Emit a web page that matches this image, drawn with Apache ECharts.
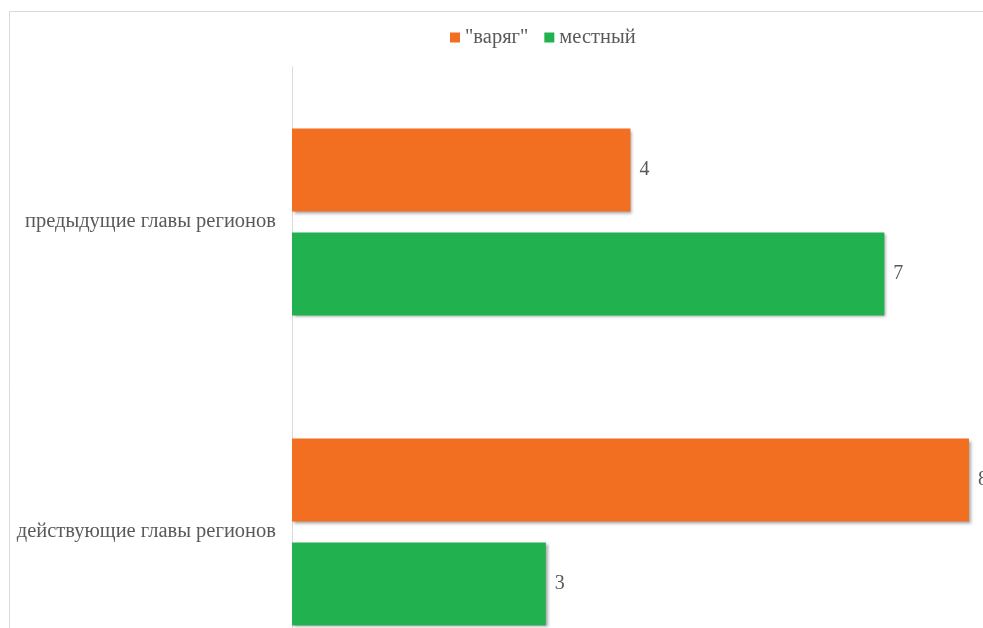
<!DOCTYPE html>
<html>
<head>
<meta charset="utf-8">
<script src="https://cdn.jsdelivr.net/npm/echarts@6/dist/echarts.min.js"></script>
<style>html,body{margin:0;padding:0;background:#fff;overflow:hidden}#c{width:1100px;height:760px}</style>
</head>
<body>
<div id="c"></div>
<script>
const categories = ['предыдущие главы регионов', 'действующие главы регионов'];
const seriesNames = ['"варяг"', 'местный'];
const varyagValues = [4, 8];
const localValues = [7, 3];

const FONT = '"Liberation Serif", "Times New Roman", serif';
const TXT = '#595959';
const chart = echarts.init(document.getElementById('c'));
const shadow = { shadowBlur: 3, shadowOffsetX: 2, shadowOffsetY: 2, shadowColor: 'rgba(0,0,0,0.35)' };
chart.setOption({
  animation: false,
  backgroundColor: '#fff',
  graphic: [{
    type: 'rect', silent: true, z: -1,
    shape: { x: 9.5, y: 11.5, width: 1100, height: 760 },
    style: { fill: 'none', stroke: '#d9d9d9', lineWidth: 1 }
  }],
  legend: {
    left: 445, top: 22,
    icon: 'rect', itemWidth: 10, itemHeight: 10, itemGap: 16,
    textStyle: { fontFamily: FONT, fontSize: 20.5, color: TXT },
    data: seriesNames
  },
  grid: { left: 292, top: 67, width: 761.6, height: 620, containLabel: false },
  xAxis: {
    type: 'value', min: 0, max: 9,
    axisLine: { show: false }, axisTick: { show: false },
    axisLabel: { show: false }, splitLine: { show: false }
  },
  yAxis: {
    type: 'category', inverse: true, data: categories,
    axisLine: { show: true, lineStyle: { color: '#d9d9d9', width: 1 } },
    axisTick: { show: false },
    axisLabel: { margin: 16, fontFamily: FONT, fontSize: 20.5, color: TXT, padding: [6, 0, 0, 0] }
  },
  series: [
    {
      name: seriesNames[0], type: 'bar', data: varyagValues,
      barCategoryGap: '39.7%', barGap: '25%',
      itemStyle: Object.assign({ color: '#F26F22' }, shadow),
      label: { show: true, position: 'right', distance: 9, fontFamily: FONT, fontSize: 20, color: TXT, padding: [3, 0, 0, 0] }
    },
    {
      name: seriesNames[1], type: 'bar', data: localValues,
      barCategoryGap: '39.7%', barGap: '25%',
      itemStyle: Object.assign({ color: '#22B14F' }, shadow),
      label: { show: true, position: 'right', distance: 9, fontFamily: FONT, fontSize: 20, color: TXT, padding: [3, 0, 0, 0] }
    }
  ]
});
</script>
</body>
</html>
